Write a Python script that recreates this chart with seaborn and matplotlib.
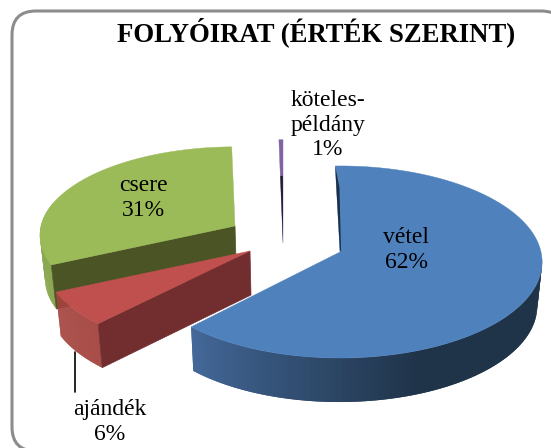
import matplotlib
matplotlib.use('Agg')
import matplotlib.pyplot as plt
import numpy as np
import seaborn as sns
from matplotlib.patches import FancyBboxPatch, Polygon

W, H = 551, 448

# shares of the pie, clockwise from 12 o'clock (kötelespéldány is drawn thinner than its label)
names = ['vétel', 'ajándék', 'csere', 'köteles-\npéldány']
shares = [62.0, 6.0, 31.7, 0.3]
labels = ['62%', '6%', '31%', '1%']

top_colors = ['#4f81bd', '#c0504d', '#9bbb59', '#8064a2']
wall_light = ['#44699a', '#a5443f', '#8aa850', '#5e4a78']
wall_dark = ['#1f3349', '#a5443f', '#8aa850', '#2b2238']
side_colors = ['#1c2f45', '#722e2e', '#4a5425', '#221b2d']

# apex of each exploded slice and its x/y size factors, in pixels
apexes = [(340, 252), (250, 251), (235, 226), (283, 243)]
scales = [(1.005, 1.0), (1.025, 0.97), (0.97, 0.92), (1.2, 1.2)]

RX, RY, PERSP, DEPTH = 200, 95, 0.104, 44


def project(angle, apex, scale):
    a = np.radians(angle)
    x, y = np.sin(a), np.cos(a)
    s = 1 / (1 + PERSP * y)
    return apex[0] + RX * x * s * scale[0], apex[1] - RY * y * s * scale[1]


def drop(pts):
    # bottom rim: pushed down and a bit towards the middle
    pts = np.asarray(pts)
    return np.column_stack([pts[:, 0] + (300 - pts[:, 0]) * 0.02, pts[:, 1] + DEPTH])


sns.set_theme(style='white')
plt.rcParams['font.family'] = ['Liberation Serif', 'DejaVu Serif']

fig = plt.figure(figsize=(W / 100, H / 100), dpi=100)
ax = fig.add_axes([0, 0, 1, 1])
ax.set_xlim(0, W)
ax.set_ylim(H, 0)
ax.axis('off')

frame = FancyBboxPatch((12, 11), 553, 440, boxstyle='round,pad=0,rounding_size=24',
                       fc='white', ec='#8c8c8c', lw=2.2, zorder=0)
ax.add_patch(frame)

ends = np.cumsum(shares) * 3.6
starts = np.concatenate([[-1.5], ends[:-1]])


def draw_slice(i, z):
    apex, scale = apexes[i], scales[i]
    ang = np.linspace(starts[i], ends[i], 160)
    rim = np.array([project(t, apex, scale) for t in ang])
    apex_pts = np.array([apex], dtype=float)

    # outer wall, only the part that faces the viewer
    front = (ang > 92) & (ang < 285)
    if front.sum() > 1:
        idx = np.where(front)[0]
        cols = sns.blend_palette([wall_dark[i], wall_dark[i], wall_light[i]], len(idx))
        for k, c in zip(idx[:-1], cols):
            seg = rim[k:k + 3]
            ax.add_patch(Polygon(np.vstack([seg, drop(seg)[::-1]]), fc=c, ec='none', zorder=z))

    # cut face turned to the viewer
    if i in (1, 2):
        pts = np.vstack([apex_pts, rim[[0]]])
        ax.add_patch(Polygon(np.vstack([pts, drop(pts)[::-1]]), fc=side_colors[i], ec=side_colors[i],
                             lw=0.5, zorder=z + 0.1))

    ax.add_patch(Polygon(np.vstack([apex_pts, rim]), fc=top_colors[i], ec=top_colors[i], lw=0.3, zorder=z + 0.2))

    # thin dark strip lying along the 12 o'clock cut
    if i == 0:
        p = rim[0]
        strip = [p, p + 0.25 * (apex_pts[0] - p) + [3, 0], apex_pts[0] + [1, -2], apex_pts[0]]
        ax.add_patch(Polygon(strip, fc=side_colors[i], ec='none', zorder=z + 0.3))
    if i == 3:
        p = rim[0]
        strip = [p + 0.35 * (apex_pts[0] - p), p + 0.35 * (apex_pts[0] - p) + [2.5, 0], apex_pts[0]]
        ax.add_patch(Polygon(strip, fc=side_colors[i], ec='none', zorder=z + 0.3))


draw_slice(2, 2)
draw_slice(3, 3)
draw_slice(1, 4)
draw_slice(0, 5)

ax.plot([75, 75], [352, 392], color='black', lw=1.2, zorder=7)

ax.text(316, 32, 'FOLYÓIRAT (ÉRTÉK SZERINT)', ha='center', va='center', fontsize=19.3,
        fontweight='bold', color='black', zorder=8)
label_pos = [(406, 250), (110, 422), (143, 198), (328, 125)]
for name, lab, (x, y) in zip(names, labels, label_pos):
    ax.text(x, y, name + '\n' + lab, ha='center', va='center', fontsize=17,
            color='black', linespacing=1.2, zorder=8)

fig.savefig('out.png', dpi=100)
